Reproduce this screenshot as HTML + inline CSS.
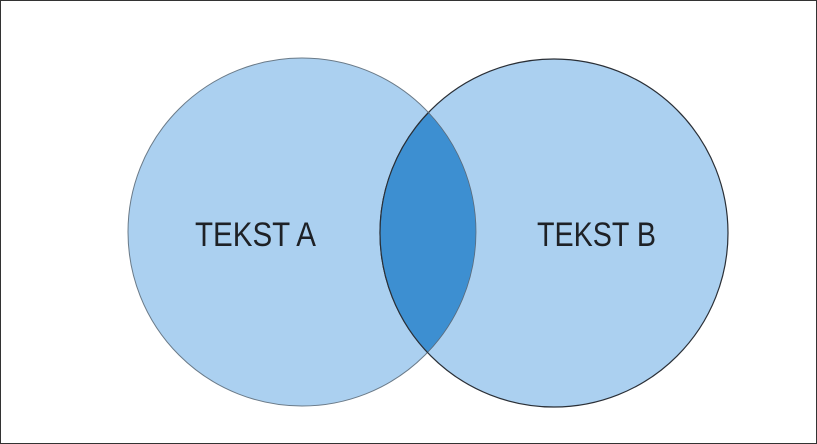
<!DOCTYPE html>
<html><head><meta charset="utf-8"><style>html,body{margin:0;padding:0;background:#fff}svg{display:block}</style></head>
<body>
<svg width="817" height="444" viewBox="0 0 817 444" xmlns="http://www.w3.org/2000/svg">
<rect x="0.5" y="0.5" width="816" height="443" fill="#fff" stroke="#333" stroke-width="1"/>
<defs><clipPath id="ca"><circle cx="302" cy="232" r="174"/></clipPath></defs>
<circle cx="302" cy="232" r="174" fill="#abd0f0" stroke="#6a7a88" stroke-width="1"/>
<circle cx="554" cy="233" r="174" fill="#abd0f0" stroke="#2a2f36" stroke-width="1.2"/>
<circle cx="554" cy="233" r="174" fill="#3d8fd1" stroke="#2a2f36" stroke-width="1.2" clip-path="url(#ca)"/>
<path d="M428 112 A174 174 0 0 1 428 352" fill="none" stroke="#5a6a7a" stroke-width="0.8"/>
<text x="195" y="246" font-family="Liberation Sans, sans-serif" font-size="34" fill="#1e2126" textLength="121" lengthAdjust="spacingAndGlyphs">TEKST A</text>
<text x="537" y="246" font-family="Liberation Sans, sans-serif" font-size="34" fill="#1e2126" textLength="119" lengthAdjust="spacingAndGlyphs">TEKST B</text>
</svg>
</body></html>
